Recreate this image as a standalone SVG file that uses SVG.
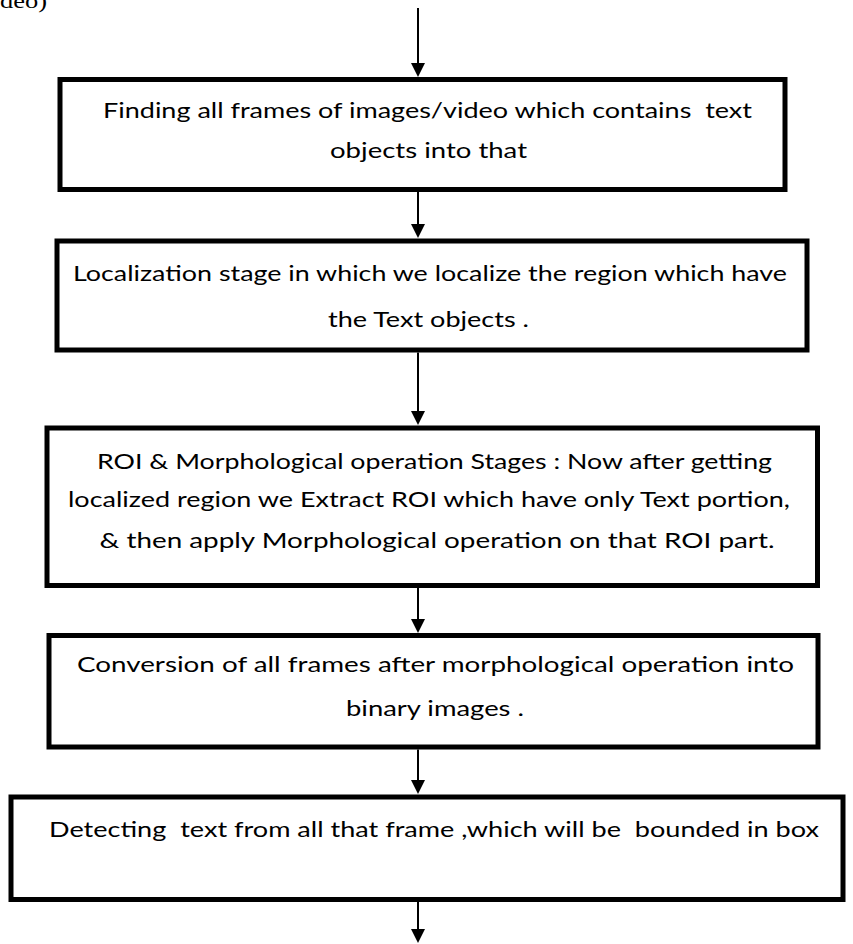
<svg xmlns="http://www.w3.org/2000/svg" width="853" height="944" viewBox="0 0 853 944">
  <style>
    .box { fill: #ffffff; stroke: #000000; stroke-width: 5; }
    .lbl { font-family: Lato, "Open Sans", "Liberation Sans", sans-serif; font-size: 22px; fill: #000000; text-anchor: middle; white-space: pre; }
    .cap { font-family: "Liberation Serif", "Times New Roman", serif; font-size: 21px; fill: #000000; }
    .link { stroke: #000000; stroke-width: 2; fill: none; }
  </style>
  <defs>
    <marker id="head" viewBox="0 0 14 14" refX="2" refY="7" markerWidth="14" markerHeight="14" markerUnits="userSpaceOnUse" orient="auto">
      <path d="M0,0 L14,7 L0,14 Z" fill="#000000"/>
    </marker>
  </defs>
  <rect width="853" height="944" fill="#ffffff"/>

  <!-- caption fragment at the top edge -->
  <text class="cap" x="0" y="8" textLength="47" lengthAdjust="spacingAndGlyphs">deo)</text>

  <!-- connectors -->
  <g id="connectors">
    <path class="link" d="M418,8 V65" marker-end="url(#head)"/>
    <path class="link" d="M418,192 V226" marker-end="url(#head)"/>
    <path class="link" d="M418,352.5 V413" marker-end="url(#head)"/>
    <path class="link" d="M418,588 V621" marker-end="url(#head)"/>
    <path class="link" d="M418,749.5 V782" marker-end="url(#head)"/>
    <path class="link" d="M418,902 V931" marker-end="url(#head)"/>
  </g>

  <g id="step-frames">
    <rect class="box" x="60" y="79.5" width="725" height="110"/>
    <text class="lbl" x="427.5" y="118" textLength="649" lengthAdjust="spacingAndGlyphs" xml:space="preserve">Finding all frames of images/video which contains  text</text>
    <text class="lbl" x="428.5" y="158" textLength="197" lengthAdjust="spacingAndGlyphs">objects into that</text>
  </g>

  <g id="step-localization">
    <rect class="box" x="57" y="241" width="750" height="109"/>
    <text class="lbl" x="430" y="281" textLength="714" lengthAdjust="spacingAndGlyphs">Localization stage in which we localize the region which have</text>
    <text class="lbl" x="428.5" y="327" textLength="201" lengthAdjust="spacingAndGlyphs">the Text objects .</text>
  </g>

  <g id="step-roi">
    <rect class="box" x="47" y="428" width="770.5" height="157.5"/>
    <text class="lbl" x="434.5" y="469" textLength="675" lengthAdjust="spacingAndGlyphs">ROI &amp; Morphological operation Stages : Now after getting</text>
    <text class="lbl" x="429" y="507" textLength="722" lengthAdjust="spacingAndGlyphs">localized region we Extract ROI which have only Text portion,</text>
    <text class="lbl" x="437" y="548" textLength="675" lengthAdjust="spacingAndGlyphs">&amp; then apply Morphological operation on that ROI part.</text>
  </g>

  <g id="step-binary">
    <rect class="box" x="49" y="635.5" width="769" height="111.5"/>
    <text class="lbl" x="435.5" y="672" textLength="717" lengthAdjust="spacingAndGlyphs">Conversion of all frames after morphological operation into</text>
    <text class="lbl" x="435" y="716" textLength="178" lengthAdjust="spacingAndGlyphs">binary images .</text>
  </g>

  <g id="step-detect">
    <rect class="box" x="11" y="797" width="832" height="102.5"/>
    <text class="lbl" x="434" y="837" textLength="770" lengthAdjust="spacingAndGlyphs" xml:space="preserve">Detecting  text from all that frame ,which will be  bounded in box</text>
  </g>
</svg>
